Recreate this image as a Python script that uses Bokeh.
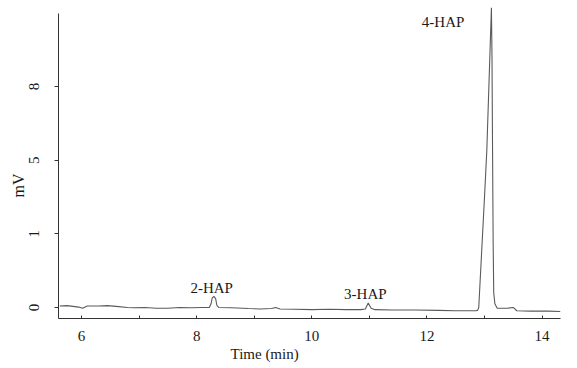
from bokeh.plotting import figure
from bokeh.models import FixedTicker, Label, Range1d, Title
from bokeh.embed import file_html
from bokeh.resources import INLINE

# Chromatogram trace (time in min, signal in axis units)
time_min = [5.62, 5.75, 5.85, 5.95, 6.02, 6.1, 6.3, 6.45, 6.6, 6.8, 6.9, 7.1, 7.3, 7.5,
            7.7, 7.9, 8.1, 8.22, 8.25, 8.27, 8.30, 8.33, 8.35, 8.38, 8.6, 8.9, 9.1, 9.3,
            9.37, 9.45, 9.7, 10.0, 10.3, 10.6, 10.85, 10.93, 10.98, 11.03, 11.1, 11.4,
            11.8, 12.2, 12.5, 12.85, 12.88, 12.90, 12.94, 13.00, 13.04, 13.08, 13.12,
            13.13, 13.14, 13.15, 13.16, 13.18, 13.22, 13.4, 13.5, 13.56, 13.8, 14.1, 14.32]
signal = [0.02, 0.025, 0.015, 0.005, -0.01, 0.02, 0.02, 0.025, 0.015, 0.0, -0.005, 0.0,
          -0.01, -0.01, 0.0, -0.005, 0.0, 0.0, 0.05, 0.13, 0.15, 0.12, 0.03, 0.0, -0.005,
          -0.015, -0.02, -0.015, 0.0, -0.02, -0.025, -0.03, -0.025, -0.03, -0.03, -0.02,
          0.06, -0.01, -0.03, -0.035, -0.035, -0.04, -0.045, -0.045, -0.04, 0.0, 0.6, 1.5,
          2.13, 3.1, 4.07, 3.4, 2.1, 0.9, 0.2, 0.05, -0.01, -0.01, 0.0, -0.045, -0.05,
          -0.05, -0.055]

y_tick_pos = [0, 1, 2, 3]
y_tick_labels = ["0", "1", "5", "8"]
x_ticks = [6, 8, 10, 12, 14]
x_minor = [7, 9, 11, 13]

peak_names = ["2-HAP", "3-HAP", "4-HAP"]
peak_label_x = [8.26, 10.93, 12.28]
peak_label_y = [0.26, 0.18, 3.87]

FONT = "Liberation Serif"
TXT = "#1a1a1a"

p = figure(width=566, height=366, output_backend="svg", toolbar_location=None,
           x_range=Range1d(5.60, 14.32), y_range=Range1d(-0.15, 4.10),
           min_border_left=58, min_border_right=8, min_border_top=5, min_border_bottom=48,
           frame_width=502, frame_height=313)
p.outline_line_color = None
p.xgrid.visible = False
p.ygrid.visible = False
p.background_fill_color = "white"

p.line(time_min, signal, line_color="#5a5a5a", line_width=1.1)

# axes
p.xaxis.ticker = FixedTicker(ticks=x_ticks, minor_ticks=x_minor)
p.xaxis.major_tick_in = 3
p.xaxis.major_tick_out = 0
p.xaxis.minor_tick_in = 3
p.xaxis.minor_tick_out = 0
p.xaxis.major_label_standoff = 12
p.xaxis.major_label_text_font = FONT
p.xaxis.major_label_text_font_size = "15px"
p.xaxis.major_label_text_color = TXT
p.xaxis.axis_line_color = "#333333"
p.xaxis.major_tick_line_color = "#333333"
p.xaxis.minor_tick_line_color = "#333333"

p.yaxis.ticker = FixedTicker(ticks=y_tick_pos)
p.yaxis.major_label_overrides = {t: l for t, l in zip(y_tick_pos, y_tick_labels)}
p.yaxis.major_label_orientation = "vertical"
p.yaxis.bounds = (-0.15, 3.99)
p.yaxis.major_tick_in = 0
p.yaxis.major_tick_out = 4
p.yaxis.minor_tick_line_color = None
p.yaxis.major_label_standoff = 15
p.yaxis.major_label_text_font = FONT
p.yaxis.major_label_text_font_size = "15px"
p.yaxis.major_label_text_color = TXT
p.yaxis.axis_line_color = "#333333"
p.yaxis.major_tick_line_color = "#333333"

for name, lx, ly in zip(peak_names, peak_label_x, peak_label_y):
    p.add_layout(Label(x=lx, y=ly, text=name, text_font=FONT, text_font_size="15px",
                       text_color=TXT, text_align="center", text_baseline="middle"))

p.add_layout(Title(text="Time (min)", align="left", offset=172, standoff=0,
                   text_font=FONT, text_font_size="15px", text_font_style="normal",
                   text_color=TXT), "below")
p.add_layout(Title(text="mV", align="left", offset=121, standoff=0,
                   text_font=FONT, text_font_size="16px", text_font_style="normal",
                   text_color=TXT), "left")

open("out.html", "w").write(file_html(p, INLINE))
